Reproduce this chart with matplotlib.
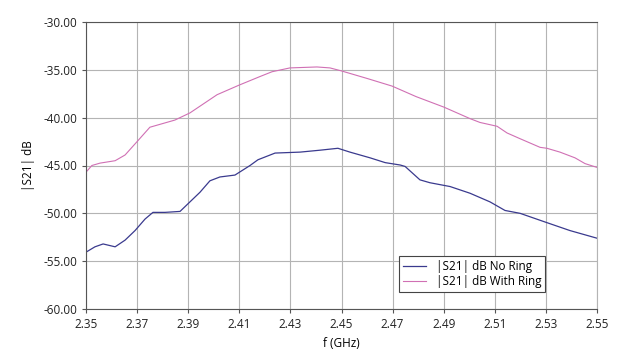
import matplotlib.pyplot as plt
import numpy as np

plt.rcParams['font.family'] = ['Open Sans', 'DejaVu Sans']

# frequency (GHz) and |S21| (dB)
f_ring = [2.3500, 2.3523, 2.3555, 2.3614, 2.3653, 2.3700, 2.3750, 2.3848, 2.3907,
          2.4013, 2.4099, 2.4181, 2.4228, 2.4298, 2.4404, 2.4455, 2.4498, 2.4600,
          2.4698, 2.4792, 2.4901, 2.5003, 2.5042, 2.5109, 2.5148, 2.5199, 2.5277,
          2.5304, 2.5355, 2.5414, 2.5453, 2.5500]
s_ring = [-45.7, -45.0, -44.75, -44.5, -43.9, -42.5, -41.0, -40.25, -39.5,
          -37.6, -36.6, -35.7, -35.2, -34.8, -34.7, -34.8, -35.1, -35.9,
          -36.7, -37.8, -38.9, -40.1, -40.5, -40.9, -41.6, -42.2, -43.1,
          -43.2, -43.6, -44.2, -44.8, -45.2]

f_none = [2.3500, 2.3535, 2.3567, 2.3614, 2.3653, 2.3692, 2.3731, 2.3762, 2.3809,
          2.3868, 2.3907, 2.3946, 2.3985, 2.4024, 2.4083, 2.4142, 2.4173, 2.4240,
          2.4338, 2.4416, 2.4486, 2.4533, 2.4612, 2.4671, 2.4730, 2.4749, 2.4807,
          2.4846, 2.4925, 2.5003, 2.5081, 2.5140, 2.5199, 2.5296, 2.5394, 2.5500]
s_none = [-54.06, -53.5, -53.2, -53.5, -52.8, -51.8, -50.6, -49.9, -49.9,
          -49.8, -48.8, -47.8, -46.6, -46.2, -46.0, -45.0, -44.4, -43.7,
          -43.6, -43.4, -43.2, -43.6, -44.2, -44.7, -44.95, -45.1, -46.5,
          -46.8, -47.2, -47.9, -48.8, -49.7, -50.0, -50.9, -51.8, -52.6]

xticks = [2.35, 2.37, 2.39, 2.41, 2.43, 2.45, 2.47, 2.49, 2.51, 2.53, 2.55]
yticks = [-60, -55, -50, -45, -40, -35, -30]

fig = plt.figure(figsize=(6.27, 3.59), dpi=100)
ax = fig.add_axes([86/627, 1-309/359, 511/627, 287/359])

ax.plot(f_none, s_none, color='#3a3a8e', lw=0.9, label='|S21| dB No Ring')
ax.plot(f_ring, s_ring, color='#d070b4', lw=0.8, label='|S21| dB With Ring')

ax.set_xlim(2.35, 2.55)
ax.set_ylim(-60, -30)
ax.set_xticks(xticks)
ax.set_xticklabels(['%.2f' % v for v in xticks])
ax.set_yticks(yticks)
ax.set_yticklabels(['%.2f' % v for v in yticks])
ax.tick_params(labelsize=8.5, length=3, width=0.8, color='#555555', colors='#222222')
ax.grid(True, color='#b4b4b4', lw=0.8)
ax.set_axisbelow(True)
for s in ['left', 'bottom', 'top']:
    ax.spines[s].set_color('#555555')
ax.spines['right'].set_color('#b4b4b4')

ax.set_xlabel('f (GHz)', fontsize=8.5, labelpad=4)
ax.set_ylabel('|S21| dB', fontsize=8.5, labelpad=6)

leg = ax.legend(loc='lower right', bbox_to_anchor=(0.91, 0.04), fontsize=8.5,
                fancybox=False, framealpha=1, edgecolor='#444444',
                handlelength=2, borderpad=0.3, labelspacing=0.2)
leg.get_frame().set_linewidth(0.8)

fig.savefig('out.png', dpi=100)
